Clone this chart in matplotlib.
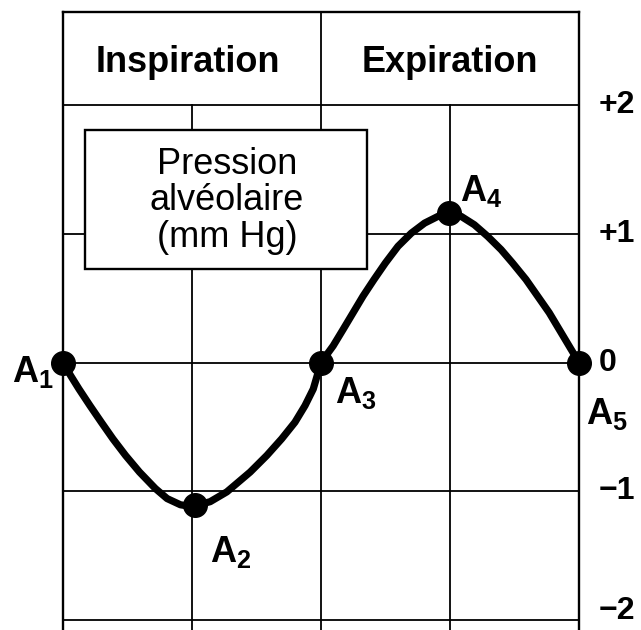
import matplotlib
matplotlib.use("Agg")
import matplotlib.pyplot as plt
from matplotlib.patches import Rectangle

plt.rcParams['font.family'] = ['Liberation Sans', 'DejaVu Sans']
plt.rcParams['mathtext.fontset'] = 'custom'
plt.rcParams['mathtext.bf'] = 'Liberation Sans:bold'
plt.rcParams['mathtext.rm'] = 'Liberation Sans'

# pression alveolaire (mm Hg)
curve_x = [0, 0.060, 0.124, 0.209, 0.297, 0.387, 0.485, 0.593, 0.716, 0.807, 0.910, 1.0,
           1.141, 1.270, 1.451, 1.580, 1.695, 1.798, 1.876, 1.940, 2.0,
           2.094, 2.172, 2.249, 2.326, 2.411, 2.499, 2.597, 2.700, 2.803, 2.906, 3.0,
           3.087, 3.189, 3.292, 3.396, 3.485, 3.589, 3.679, 3.769, 3.846, 3.923, 4.0]
curve_y = [0, -0.103, -0.206, -0.335, -0.464, -0.593, -0.722, -0.851, -0.979, -1.057, -1.105, -1.12,
           -1.081, -1.005, -0.851, -0.722, -0.593, -0.464, -0.335, -0.206, 0,
           0.129, 0.258, 0.387, 0.516, 0.645, 0.773, 0.903, 1.005, 1.083, 1.135, 1.16,
           1.135, 1.070, 0.980, 0.877, 0.773, 0.645, 0.516, 0.387, 0.258, 0.129, 0]

point_x = [0, 1.02, 2, 2.99, 4]
point_y = [0, -1.11, 0, 1.16, 0]
point_names = ['1', '2', '3', '4', '5']
point_label_pos = [(-0.23, -0.07), (1.30, -1.47), (2.27, -0.24), (3.24, 1.33), (4.22, -0.40)]

y_ticks = [2, 1, 0, -1, -2]
y_tick_labels = ['+2', '+1', '0', '\u22121', '\u22122']
phases = ['Inspiration', 'Expiration']
legend_text = 'Pression\nalvéolaire\n(mm Hg)'

fig = plt.figure(figsize=(6.41, 6.30), dpi=100)
ax = fig.add_axes([63/641, 0, 516/641, 618/630])
ax.set_xlim(0, 4)
ax.set_ylim(-2.078, 2.723)
ax.set_xticks([])
ax.set_yticks([])
for s in ['left', 'right', 'top']:
    ax.spines[s].set_linewidth(1.7)
ax.spines['bottom'].set_visible(False)

# grille
for yv in y_ticks:
    ax.plot([0, 4], [yv, yv], color='black', lw=1.3, zorder=1)
for xv in [1, 3]:
    ax.plot([xv, xv], [-2.078, 2], color='black', lw=1.3, zorder=1)
ax.plot([2, 2], [-2.078, 2.723], color='black', lw=1.3, zorder=1)

# en-tete
ax.text(0.97, 2.33, phases[0], ha='center', va='center', fontsize=26, fontweight='bold')
ax.text(3.0, 2.33, phases[1], ha='center', va='center', fontsize=26, fontweight='bold')

# courbe
ax.plot(curve_x, curve_y, color='black', lw=5.2, solid_capstyle='round',
        solid_joinstyle='round', zorder=3)
ax.plot(point_x, point_y, 'o', color='black', ms=17, zorder=4, clip_on=False)

for name, (lx, ly) in zip(point_names, point_label_pos):
    ax.text(lx, ly, r'$\mathbf{A}_{\mathbf{%s}}$' % name, ha='center', va='center',
            fontsize=26, clip_on=False)

for yv, lab in zip(y_ticks, y_tick_labels):
    yy = yv if yv > -2 else -1.93
    ax.text(4.15, yy, lab, ha='left', va='center', fontsize=23, fontweight='bold',
            clip_on=False)

# encadre
ax.add_patch(Rectangle((0.168, 0.727), 2.19, 1.081, facecolor='white', edgecolor='black',
                       lw=1.7, zorder=5))
ax.text(1.27, 1.255, legend_text, ha='center', va='center', fontsize=26,
        multialignment='center', linespacing=1.05, zorder=6)

fig.savefig('out.png', dpi=100)
